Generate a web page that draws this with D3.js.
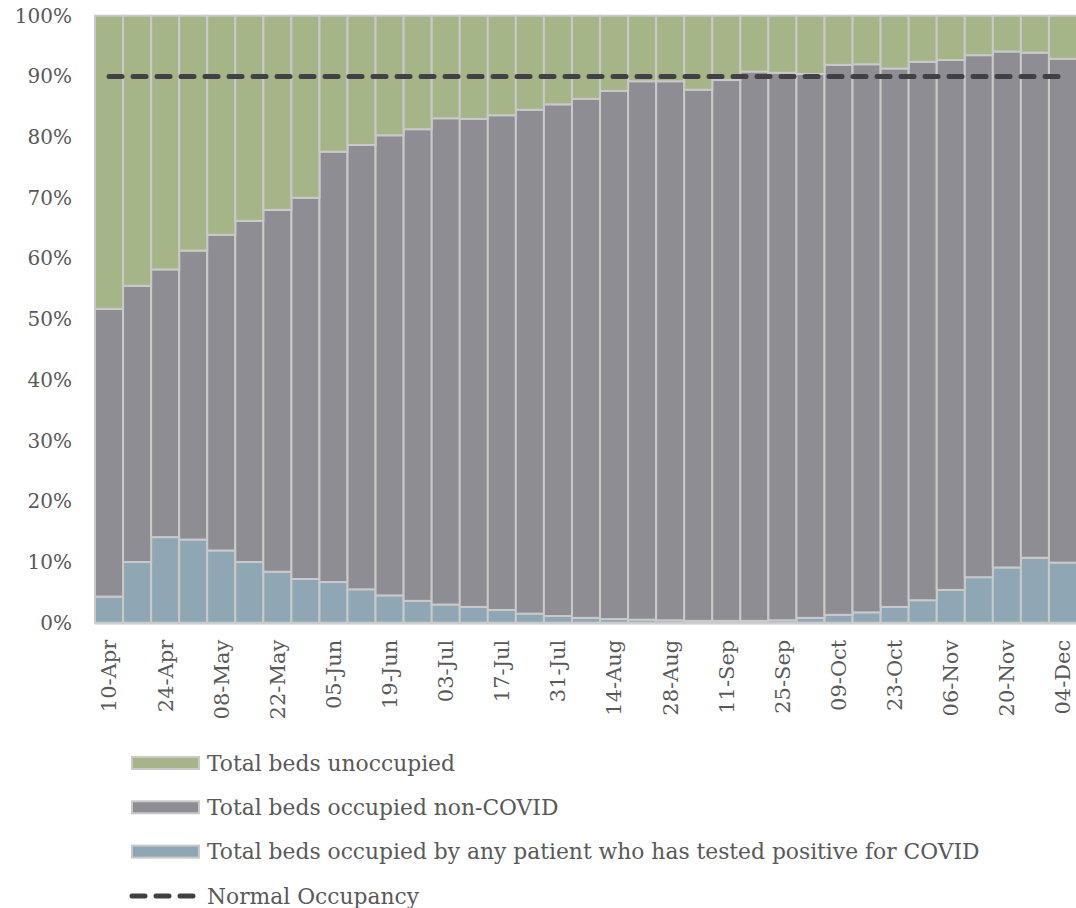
<!DOCTYPE html>
<html><head><meta charset="utf-8">
<script src="https://cdn.jsdelivr.net/npm/d3@7"></script>
<style>
html,body{margin:0;padding:0;background:#fff;}
svg text{font-family:"DejaVu Serif",serif;fill:#595959;}
</style></head>
<body>
<svg id="chart" width="1076" height="908"></svg>
<script>
const categories = ["10-Apr","17-Apr","24-Apr","01-May","08-May","15-May","22-May","29-May","05-Jun","12-Jun","19-Jun","26-Jun","03-Jul","10-Jul","17-Jul","24-Jul","31-Jul","07-Aug","14-Aug","21-Aug","28-Aug","04-Sep","11-Sep","18-Sep","25-Sep","02-Oct","09-Oct","16-Oct","23-Oct","30-Oct","06-Nov","13-Nov","20-Nov","27-Nov","04-Dec"];
const covid = [4.3,10.0,14.1,13.7,11.9,10.0,8.4,7.2,6.7,5.5,4.5,3.6,3.0,2.6,2.1,1.5,1.1,0.8,0.6,0.5,0.4,0.3,0.3,0.3,0.4,0.8,1.3,1.7,2.6,3.7,5.4,7.5,9.1,10.7,9.9];
const nonCovid = [47.4,45.5,44.1,47.6,52.0,56.2,59.6,62.8,70.9,73.2,75.8,77.7,80.1,80.4,81.5,83.0,84.3,85.5,87.0,88.7,88.8,87.5,89.1,90.5,90.2,89.6,90.6,90.3,88.7,88.7,87.3,86.0,85.0,83.2,83.0];
const unoccupied = [48.3,44.5,41.8,38.7,36.1,33.8,32.0,30.0,22.4,21.3,19.7,18.7,16.9,17.0,16.4,15.5,14.6,13.7,12.4,10.8,10.8,12.2,10.6,9.2,9.4,9.6,8.1,8.0,8.7,7.6,7.3,6.5,5.9,6.1,7.1];
const normalOccupancy = 90;
const yTicks = [0,10,20,30,40,50,60,70,80,90,100];
const seriesNames = ["Total beds unoccupied","Total beds occupied non-COVID","Total beds occupied by any patient who has tested positive for COVID"];
const lineName = "Normal Occupancy";

const colors = {covid:"#8fa7b5", nonCovid:"#8e8d94", unoccupied:"#a6b588"};
const strokeCol = "#c9c9c9";

const svg = d3.select("#chart");
const mLeft = 95, mRight = 1077, mTop = 15.7, mBottom = 622.7;

const x = d3.scaleBand().domain(categories).range([mLeft, mRight]).padding(0);
const y = d3.scaleLinear().domain([0,100]).range([mBottom, mTop]);

const rows = categories.map((c,i)=>({cat:c, covid:covid[i], nonCovid:nonCovid[i], unoccupied:unoccupied[i]}));
const keys = ["covid","nonCovid","unoccupied"];
const stack = d3.stack().keys(keys)(rows);

// bottom axis line
svg.append("line").attr("x1",mLeft).attr("x2",mRight).attr("y1",mBottom+1).attr("y2",mBottom+1)
  .attr("stroke","#d9d9d9").attr("stroke-width",2);

const g = svg.append("g");
stack.forEach(layer=>{
  g.append("g").selectAll("rect").data(layer).join("rect")
    .attr("x",d=>x(d.data.cat))
    .attr("width",x.bandwidth())
    .attr("y",d=>y(d[1]))
    .attr("height",d=>y(d[0])-y(d[1]))
    .attr("fill",colors[layer.key])
    .attr("stroke",strokeCol).attr("stroke-width",2);
});

// normal occupancy line
const lineData = categories.map(c=>({cat:c, v:normalOccupancy}));
svg.append("path").datum(lineData)
  .attr("d", d3.line().x(d=>x(d.cat)+x.bandwidth()/2).y(d=>y(d.v)))
  .attr("fill","none").attr("stroke","#404045").attr("stroke-width",5)
  .attr("stroke-linecap","round").attr("stroke-dasharray","13,11");

// y axis
const yAxis = d3.axisLeft(y).tickValues(yTicks).tickFormat(d=>d+"%").tickSize(0).tickPadding(0);
const ya = svg.append("g").attr("transform",`translate(72,0)`).call(yAxis);
ya.select(".domain").remove();
ya.selectAll("text").style("font-size","20px").attr("font-family",null).attr("fill","#595959").attr("dy","0.32em");

// x axis
const xAxis = d3.axisBottom(x).tickValues(categories.filter((c,i)=>i%2===0)).tickSize(0).tickPadding(0);
const xa = svg.append("g").attr("transform",`translate(0,${mBottom})`).call(xAxis);
xa.select(".domain").remove();
xa.selectAll("text").style("font-size","21px").attr("fill","#595959")
  .attr("transform","rotate(-90)").attr("text-anchor","end")
  .attr("x",-17).attr("y",0).attr("dy","0.35em");

// legend
const legend = svg.append("g");
const legItems = [
  {name:seriesNames[0], color:colors.unoccupied},
  {name:seriesNames[1], color:colors.nonCovid},
  {name:seriesNames[2], color:colors.covid}
];
const ly0 = 763, lstep = 44.3;
legItems.forEach((it,i)=>{
  const yy = ly0 + i*lstep;
  legend.append("rect").attr("x",132).attr("y",yy-6).attr("width",67).attr("height",12)
    .attr("fill",it.color).attr("stroke",strokeCol).attr("stroke-width",2);
  legend.append("text").attr("x",207).attr("y",yy).attr("dy","0.35em").style("font-size","21.8px").text(it.name);
});
const lyl = ly0 + 3*lstep;
legend.append("line").attr("x1",132).attr("x2",198).attr("y1",lyl).attr("y2",lyl)
  .attr("stroke","#404045").attr("stroke-width",5).attr("stroke-linecap","round").attr("stroke-dasharray","13,11");
legend.append("text").attr("x",207).attr("y",lyl).attr("dy","0.35em").style("font-size","21.8px").text(lineName);
</script>
</body></html>
